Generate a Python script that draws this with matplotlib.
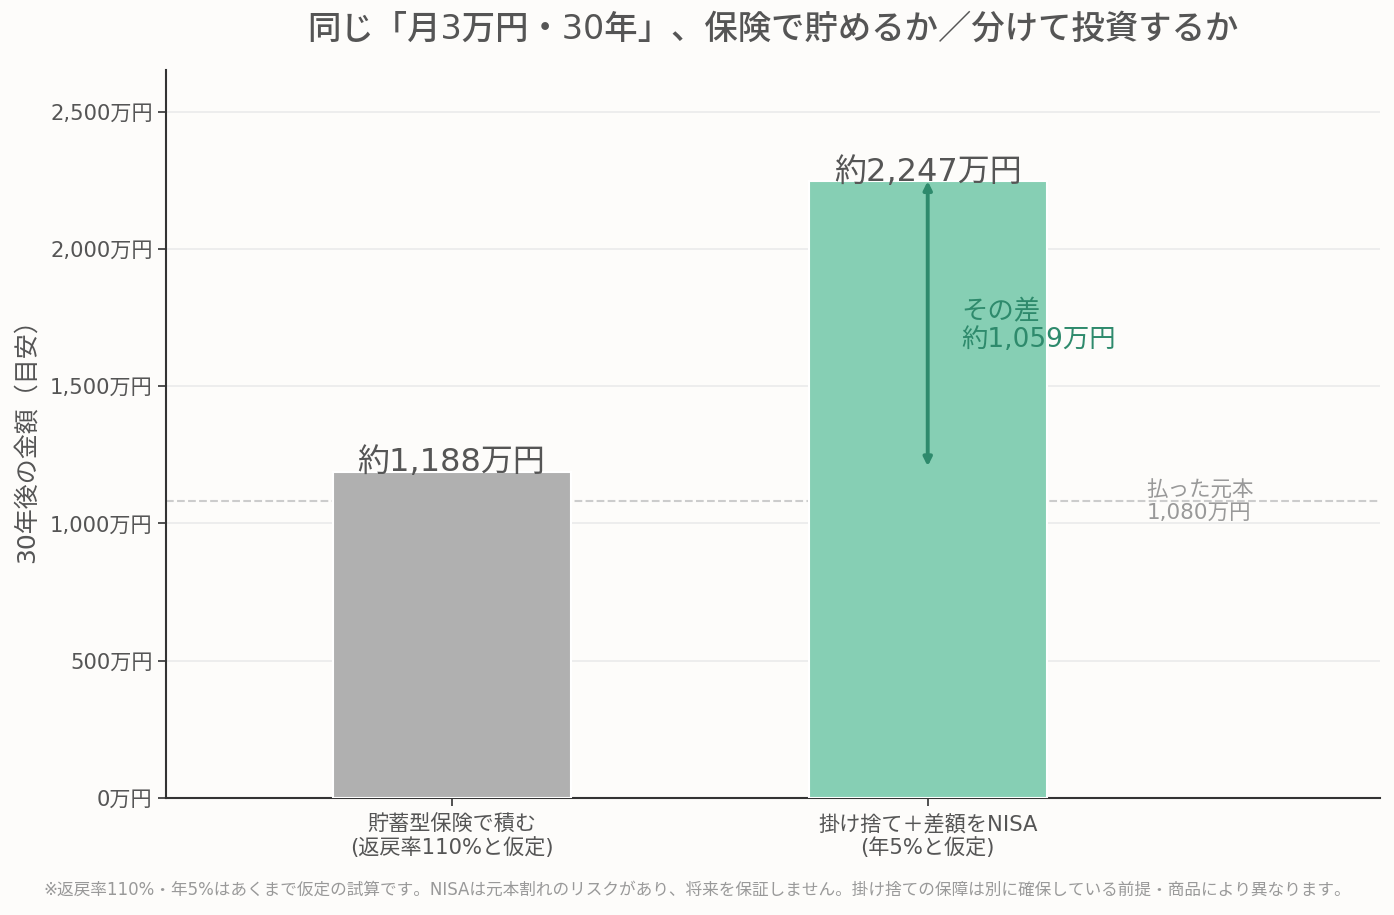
import matplotlib.pyplot as plt

plt.rcParams['font.family'] = ['DejaVu Sans', 'Noto Sans CJK JP']

# data
categories = ['貯蓄型保険で積む\n(返戻率110%と仮定)', '掛け捨て＋差額をNISA\n(年5%と仮定)']
values = [1188, 2247]
value_labels = ['約1,188万円', '約2,247万円']
principal = 1080
diff = values[1] - values[0]
yticks = [0, 500, 1000, 1500, 2000, 2500]

bg = '#fdfcfa'
bar_colors = ['#b0b0b0', '#86cfb4']
accent = '#2e8a6c'

fig, ax = plt.subplots(figsize=(13.94, 9.15), dpi=100)
fig.patch.set_facecolor(bg)
ax.set_facecolor(bg)
fig.subplots_adjust(left=0.119, right=0.99, top=0.923, bottom=0.128)

x = range(len(categories))
ax.bar(x, values, width=0.5, color=bar_colors, edgecolor='white', linewidth=1.5, zorder=3)

for i, (v, lab) in enumerate(zip(values, value_labels)):
    ax.text(i, v - 24, lab, ha='center', va='bottom', fontsize=23, color='#555555', zorder=5)

# principal line
ax.axhline(principal, color='#cccccc', linestyle='--', linewidth=1.5, zorder=2)
ax.text(1.46, principal, f'払った元本\n{principal:,}万円', ha='left', va='center',
        fontsize=15.5, color='#999999', linespacing=1.15, zorder=4)

# difference arrow
ax.annotate('', xy=(1, values[1]), xytext=(1, values[0] + 20),
            arrowprops=dict(arrowstyle='<|-|>', color=accent, lw=2.8,
                            mutation_scale=12, shrinkA=0, shrinkB=0), zorder=6)
ax.text(1.07, (values[0] + values[1]) / 2, f'その差\n約{diff:,}万円', ha='left', va='center',
        fontsize=19, color=accent, linespacing=1.1, zorder=6)

ax.set_xlim(-0.6, 1.95)
ax.set_ylim(0, 2650)
ax.set_yticks(yticks)
ax.set_yticklabels([f'{t:,}万円' for t in yticks])
ax.set_xticks(list(x))
ax.set_xticklabels(categories, linespacing=1.15)
ax.tick_params(axis='both', labelsize=15.2, colors='#555555', length=6, width=1.2)
ax.tick_params(axis='x', pad=6)
ax.tick_params(axis='both', color='#333333')

ax.grid(axis='y', color='#ececec', linewidth=1.3, zorder=0)
ax.set_axisbelow(True)
for s in ['top', 'right']:
    ax.spines[s].set_visible(False)
for s in ['left', 'bottom']:
    ax.spines[s].set_color('#333333')
    ax.spines[s].set_linewidth(1.5)

ax.set_ylabel('30年後の金額（目安）', fontsize=18, color='#555555', labelpad=8)
ax.set_title('同じ「月3万円・30年」、保険で貯めるか／分けて投資するか',
             fontsize=24, color='#555555', pad=23, fontweight='medium')

fig.text(0.5, 0.028, '※返戻率110%・年5%はあくまで仮定の試算です。NISAは元本割れのリスクがあり、将来を保証しません。掛け捨ての保障は別に確保している前提・商品により異なります。',
         ha='center', va='center', fontsize=12, color='#999999')

fig.savefig('out.png', dpi=100, facecolor=bg)
